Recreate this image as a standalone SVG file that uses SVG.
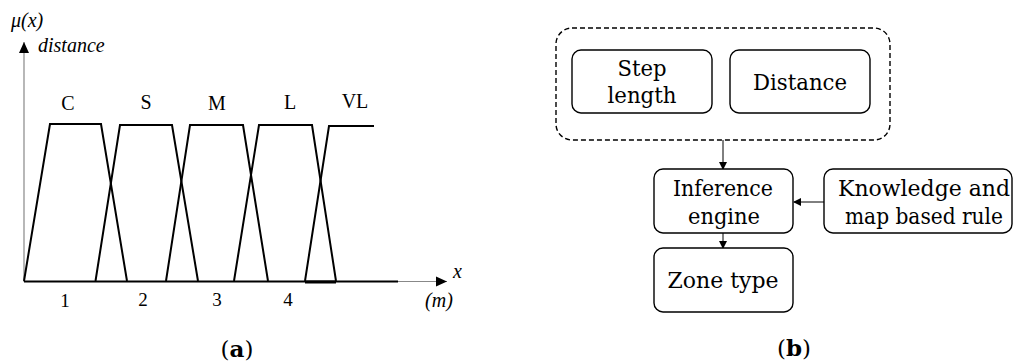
<svg xmlns="http://www.w3.org/2000/svg" width="1016" height="362" viewBox="0 0 1016 362">
<style>
.mf{fill:none;stroke:#000;stroke-width:2;stroke-linejoin:miter}
.lbl{font-family:"Liberation Serif",serif;font-size:20px;fill:#000;text-anchor:middle}
.num{font-family:"Liberation Serif",serif;font-size:19px;fill:#000;text-anchor:middle}
.it{font-family:"Liberation Serif",serif;font-style:italic;font-size:20px;fill:#000}
.box{fill:#fff;stroke:#000;stroke-width:1.4}
.bt{font-family:"DejaVu Serif",serif;font-size:22px;fill:#000;text-anchor:middle}
.cap{font-family:"DejaVu Serif",serif;font-size:23px;fill:#000;text-anchor:middle}
.con{fill:none;stroke:#000;stroke-width:1}
</style>
<defs>
<marker id="ah" markerWidth="8" markerHeight="8" refX="7" refY="4" orient="auto" markerUnits="userSpaceOnUse">
<path d="M0,0 L8,4 L0,8 Z" fill="#000"/>
</marker>
<marker id="ahb" markerWidth="12" markerHeight="12" refX="11" refY="6" orient="auto" markerUnits="userSpaceOnUse">
<path d="M0,1 L11,6 L0,11 Z" fill="#000"/>
</marker>
</defs>

<g id="chart-a">
<line x1="24" y1="282" x2="24" y2="42" stroke="#888" stroke-width="1.2" marker-end="url(#ahb)"/>
<line x1="398" y1="281.5" x2="447" y2="281.5" stroke="#888" stroke-width="1.2" marker-end="url(#ahb)"/>
<line x1="24" y1="281.5" x2="398" y2="281.5" stroke="#000" stroke-width="2"/>
<polyline class="mf" points="24,281 50,124 101,124 127,281"/>
<polyline class="mf" points="95.5,281 120,125 172,125 198,281"/>
<polyline class="mf" points="166,281 190,125 243,125 268,281"/>
<polyline class="mf" points="234,281 259,125 312,125 336,281"/>
<polyline class="mf" points="305,281 329,126 374,126"/>
<line x1="305" y1="282" x2="336" y2="282" stroke="#000" stroke-width="3"/>
<text class="it" x="11" y="27" font-size="21">μ(x)</text>
<text class="it" x="38" y="52">distance</text>
<text class="lbl" x="68" y="110">C</text>
<text class="lbl" x="146" y="109">S</text>
<text class="lbl" x="217" y="110">M</text>
<text class="lbl" x="290" y="109">L</text>
<text class="lbl" x="355" y="108">VL</text>
<text class="num" x="65" y="307">1</text>
<text class="num" x="143" y="306">2</text>
<text class="num" x="217" y="306">3</text>
<text class="num" x="288" y="306">4</text>
<text class="it" x="439" y="307" text-anchor="middle">(m)</text>
<text class="it" x="453" y="278">x</text>
<text class="cap" x="237" y="357">(<tspan font-weight="bold">a</tspan>)</text>
</g>

<g id="connectors">
<line class="con" x1="723" y1="140" x2="723" y2="169" marker-end="url(#ah)"/>
<line class="con" x1="824" y1="202" x2="794" y2="202" marker-end="url(#ah)"/>
<line class="con" x1="723" y1="233" x2="723" y2="248" marker-end="url(#ah)"/>
</g>

<g id="group-inputs">
<rect x="556" y="28" width="334" height="112" rx="16" fill="none" stroke="#000" stroke-width="1.4" stroke-dasharray="5,3"/>
</g>
<g id="node-step">
<rect class="box" x="572" y="50" width="140" height="63" rx="9"/>
<text class="bt" x="642" y="76" textLength="49" lengthAdjust="spacingAndGlyphs">Step</text>
<text class="bt" x="642" y="103" textLength="69" lengthAdjust="spacingAndGlyphs">length</text>
</g>
<g id="node-distance">
<rect class="box" x="730" y="50" width="140" height="63" rx="9"/>
<text class="bt" x="800" y="90" textLength="94" lengthAdjust="spacingAndGlyphs">Distance</text>
</g>
<g id="node-inference">
<rect class="box" x="654" y="169" width="139" height="64" rx="9"/>
<text class="bt" x="723" y="196" textLength="100" lengthAdjust="spacingAndGlyphs">Inference</text>
<text class="bt" x="724" y="224" textLength="72" lengthAdjust="spacingAndGlyphs">engine</text>
</g>
<g id="node-knowledge">
<rect class="box" x="824" y="169" width="188" height="64" rx="9"/>
<text class="bt" x="924" y="196" textLength="172" lengthAdjust="spacingAndGlyphs">Knowledge and</text>
<text class="bt" x="924" y="224" textLength="158" lengthAdjust="spacingAndGlyphs">map based rule</text>
</g>
<g id="node-zone">
<rect class="box" x="654" y="248" width="139" height="64" rx="9"/>
<text class="bt" x="723" y="288" textLength="111" lengthAdjust="spacingAndGlyphs">Zone type</text>
</g>
<text class="cap" x="794" y="356">(<tspan font-weight="bold">b</tspan>)</text>
</svg>
